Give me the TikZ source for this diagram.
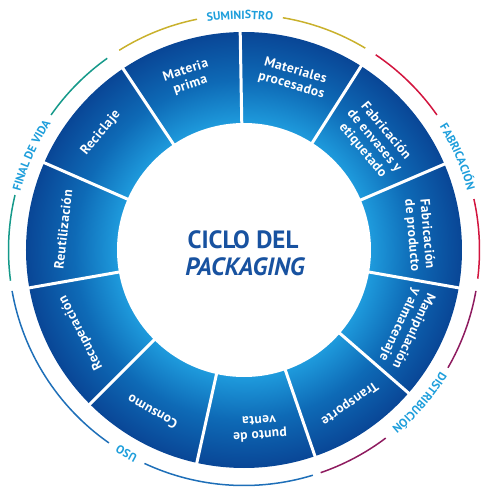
\documentclass[tikz,border=0pt]{standalone}
\usepackage{fontspec}
\setmainfont{PT Sans}
\usetikzlibrary{decorations.text}
\definecolor{ringlight}{RGB}{30,154,220}
\definecolor{ringmid}{RGB}{14,106,182}
\definecolor{ringdark}{RGB}{9,70,150}
\definecolor{titleblue}{RGB}{24,82,160}
\definecolor{outtext}{RGB}{30,158,219}
\definecolor{cSum}{RGB}{201,177,44}
\definecolor{cFab}{RGB}{210,20,62}
\definecolor{cDis}{RGB}{142,27,95}
\definecolor{cUso}{RGB}{30,111,184}
\definecolor{cFin}{RGB}{21,153,138}
\pgfdeclareradialshading{ringshade}{\pgfpoint{0bp}{0bp}}{color(0bp)=(ringlight); color(14.6bp)=(ringlight); color(19.5bp)=(ringmid); color(25bp)=(ringdark); color(50bp)=(ringdark)}
\newcommand\grparc[3]{\draw[grparc,#1] (#2:235.5pt) arc[start angle=#2, end angle=#3, radius=235.5pt];}
\newcommand\outfont{\fontsize{11.8}{13}\selectfont\bfseries\color{outtext}}
\begin{document}
\begin{tikzpicture}[
  seglab/.style={text=white, font=\bfseries\fontsize{13.5}{15}\selectfont\addfontfeature{LetterSpace=3}, align=center, inner sep=0pt},
  divider/.style={white, line width=3pt},
  grparc/.style={line width=1.5pt},
  title/.style={text=titleblue, font=\bfseries\fontsize{25}{28}\selectfont, inner sep=0pt, anchor=base}
]
\useasboundingbox (-244pt,-249pt) rectangle (248pt,250pt);
% ring
\shade[shading=ringshade] (0pt,0pt) circle[radius=218pt];
\fill[white] (0pt,0pt) circle[radius=127pt];
% dividers
\foreach \a in {91,123.7,156.4,190,225,257.5,289,319,350,23.2,57.5}
  \draw[divider] (\a:120pt) -- (\a:224pt);
% segment labels
\node[seglab, rotate=-16] (mproc) at (74:179pt) {Materiales\\procesados};
\node[seglab, rotate=18] (mprima) at (108:181pt) {Materia\\prima};
\node[seglab, rotate=50.7] (recic) at (140.7:185pt) {Reciclaje};
\node[seglab, rotate=83.5] (reut) at (173.5:182pt) {Reutilización};
\node[seglab, rotate=117] (recup) at (207:183pt) {Recuperación};
\node[seglab, rotate=150.5] (consumo) at (240.5:186pt) {Consumo};
\node[seglab, rotate=184] (punto) at (275:179pt) {punto de\\venta};
\node[seglab, rotate=214.5] (transp) at (304.5:186pt) {Transporte};
\node[seglab, rotate=244.5] (manip) at (334.5:180pt) {Manipulación\\y almacenaje};
\node[seglab, rotate=-85] (fprod) at (5:176pt) {Fabricación\\de producto};
\node[seglab, rotate=-50] (fenv) at (40:170pt) {Fabricación\\de envases y\\etiquetado};
% title
\node[title] (t1) at (-1pt,2pt) {CICLO DEL};
\node[title] (t2) at (1pt,-25pt) {\itshape PACKAGING};
% group arcs
\grparc{cSum}{59}{80.5}
\grparc{cSum}{101.5}{122}
\grparc{cFab}{-7}{12.5}
\grparc{cFab}{35}{56}
\grparc{cDis}{-71}{-53}
\grparc{cDis}{-30}{-10}
\grparc{cUso}{190}{235}
\grparc{cUso}{245}{287}
\grparc{cFin}{125.5}{145}
\grparc{cFin}{166.5}{187.5}
% group labels
\path[decorate, decoration={text along path, text align=center, text={|\outfont|SUMINISTRO}}]
  (121:231pt) arc[start angle=121, end angle=61, radius=231pt];
\path[decorate, decoration={text along path, text align=center, text={|\outfont|FABRICACIÓN}}]
  (53.5:231pt) arc[start angle=53.5, end angle=-6.5, radius=231pt];
\path[decorate, decoration={text along path, text align=center, text={|\outfont|DISTRIBUCIÓN}}]
  (-11:231pt) arc[start angle=-11, end angle=-71, radius=231pt];
\path[decorate, decoration={text along path, text align=center, text={|\outfont|USO}}]
  (260:231pt) arc[start angle=260, end angle=220, radius=231pt];
\path[decorate, decoration={text along path, text align=center, text={|\outfont|FINAL DE VIDA}}]
  (186:231pt) arc[start angle=186, end angle=126, radius=231pt];
\end{tikzpicture}
\end{document}
